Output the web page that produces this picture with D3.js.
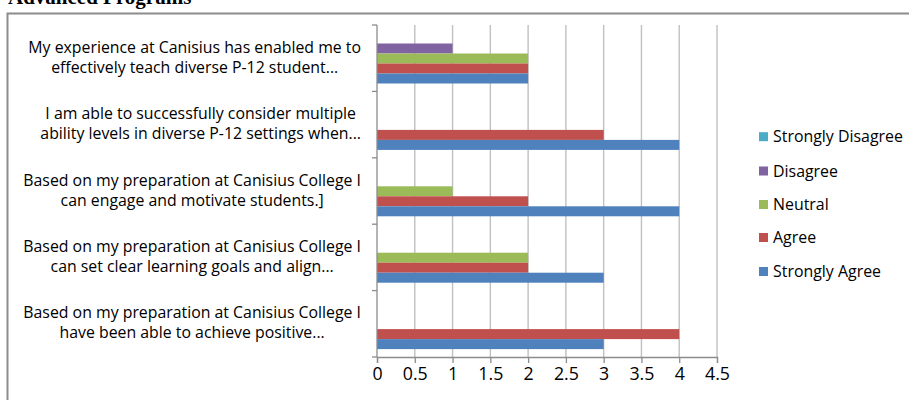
<!DOCTYPE html>
<html>
<head>
<meta charset="utf-8">
<script src="https://cdn.jsdelivr.net/npm/d3@7"></script>
<style>
  html, body { margin: 0; padding: 0; background: #fff; }
  svg { display: block; }
</style>
</head>
<body>
<svg id="chart" width="909" height="400"></svg>
<script>
// ---- data ----
const categories = [
  ["My experience at Canisius has enabled me to", "effectively teach diverse P-12 student..."],
  ["I am able to successfully consider multiple", "ability levels in diverse P-12 settings when..."],
  ["Based on my preparation at Canisius College I", "can engage and motivate students.]"],
  ["Based on my preparation at Canisius College I", "can set clear learning goals and align..."],
  ["Based on my preparation at Canisius College I", "have been able to achieve positive..."]
];
const seriesNames = ["Strongly Disagree", "Disagree", "Neutral", "Agree", "Strongly Agree"];
const stronglyDisagree = [0, 0, 0, 0, 0];
const disagree         = [1, 0, 0, 0, 0];
const neutral          = [2, 0, 1, 2, 0];
const agree            = [2, 3, 2, 2, 4];
const stronglyAgree    = [2, 4, 4, 3, 3];
const xTicks = [0, 0.5, 1, 1.5, 2, 2.5, 3, 3.5, 4, 4.5];
const colors = ["#4BACC6", "#8064A2", "#9BBB59", "#C0504D", "#4F81BD"];

const seriesValues = [stronglyDisagree, disagree, neutral, agree, stronglyAgree];

// ---- layout ----
const svg = d3.select("#chart");
const FONT = "'Open Sans', Lato, sans-serif";

// pick a font size so that a sample string has the width seen in the reference
function fitSize(sample, targetW) {
  const t = svg.append("text").attr("font-family", FONT).attr("font-size", 20).text(sample);
  const w = t.node().getComputedTextLength();
  t.remove();
  return 20 * targetW / w;
}
const labelSize = fitSize("Based on my preparation at Canisius College I", 338);
const legendSize = fitSize("Strongly Disagree", 130);
const tickSize = fitSize("0.5", 25);

// title (clipped at top)
svg.append("text")
  .attr("x", 8).attr("y", 4)
  .attr("font-family", "'Liberation Serif', 'Times New Roman', serif")
  .attr("font-weight", "bold")
  .attr("font-size", 21)
  .attr("fill", "#000")
  .text("Advanced Programs");

// frame
svg.append("rect")
  .attr("x", 7.5).attr("y", 13.5)
  .attr("width", 1000).attr("height", 500)
  .attr("fill", "none")
  .attr("stroke", "#8c8c8c")
  .attr("stroke-width", 2);

const plotLeft = 377, plotRight = 717, plotTop = 25, plotBottom = 357;

const x = d3.scaleLinear().domain([0, 4.5]).range([plotLeft, plotRight]);
const catIdx = d3.range(categories.length);
const y0 = d3.scaleBand().domain(catIdx).range([plotTop, plotBottom]).padding(0);
const groupPad = (y0.bandwidth() - 50) / 2;
const y1 = d3.scaleBand().domain(d3.range(seriesNames.length))
  .range([groupPad + 0.3, y0.bandwidth() - groupPad + 0.3]).padding(0);

// gridlines
svg.append("g")
  .selectAll("line")
  .data(xTicks.filter(d => d > 0))
  .join("line")
  .attr("x1", d => x(d)).attr("x2", d => x(d))
  .attr("y1", plotTop).attr("y2", plotBottom)
  .attr("stroke", "#c0c0c0")
  .attr("stroke-width", 1.4);

// bars
const gCats = svg.append("g").selectAll("g")
  .data(catIdx)
  .join("g")
  .attr("transform", i => `translate(0,${y0(i)})`);

gCats.selectAll("rect")
  .data(i => seriesValues.map((vals, s) => ({ s, v: vals[i] })))
  .join("rect")
  .attr("x", x(0))
  .attr("y", d => y1(d.s))
  .attr("width", d => x(d.v) - x(0))
  .attr("height", y1.bandwidth())
  .attr("fill", d => colors[d.s]);

// x axis
const xAxis = d3.axisBottom(x).tickValues(xTicks).tickSize(6).tickPadding(4)
  .tickFormat(d => String(d));
const gx = svg.append("g").attr("transform", `translate(0,${plotBottom})`).call(xAxis);
gx.select(".domain").attr("stroke", "#8c8c8c").attr("stroke-width", 1.3);
gx.selectAll(".tick line").attr("stroke", "#8c8c8c").attr("stroke-width", 1.3);
gx.selectAll(".tick text")
  .attr("font-family", FONT).attr("font-size", tickSize).attr("fill", "#000");

// y axis (category ticks at boundaries)
svg.append("line")
  .attr("x1", plotLeft).attr("x2", plotLeft)
  .attr("y1", plotTop).attr("y2", plotBottom)
  .attr("stroke", "#8c8c8c").attr("stroke-width", 1.3);
const yBoundaries = catIdx.map(i => y0(i)).concat([plotBottom]);
svg.append("g").selectAll("line")
  .data(yBoundaries)
  .join("line")
  .attr("x1", plotLeft - 5).attr("x2", plotLeft)
  .attr("y1", d => d).attr("y2", d => d)
  .attr("stroke", "#8c8c8c").attr("stroke-width", 1.3);

// category labels
const labelRight = 361;
const lineGap = 20;
const gLab = svg.append("g");
categories.forEach((lines, i) => {
  const cy = y0(i) + y0.bandwidth() / 2;
  const t = gLab.append("text")
    .attr("font-family", FONT).attr("font-size", labelSize).attr("fill", "#000")
    .attr("text-anchor", "middle");
  const tspans = lines.map((ln, k) => t.append("tspan")
    .attr("y", cy + (k - (lines.length - 1) / 2) * lineGap - 1)
    .attr("dy", "0.35em")
    .text(ln));
  const maxW = d3.max(tspans, s => s.node().getComputedTextLength());
  tspans.forEach(s => s.attr("x", labelRight - maxW / 2));
});

// legend
const legendRows = [136.7, 171, 204.5, 237.5, 271.5];
const gLeg = svg.append("g");
seriesNames.forEach((name, s) => {
  const cy = legendRows[s];
  gLeg.append("rect")
    .attr("x", 759).attr("y", cy - 4.5)
    .attr("width", 9).attr("height", 9)
    .attr("fill", colors[s]);
  gLeg.append("text")
    .attr("x", 773).attr("y", cy)
    .attr("dy", "0.35em")
    .attr("font-family", FONT).attr("font-size", legendSize).attr("fill", "#000")
    .text(name);
});
</script>
</body>
</html>
